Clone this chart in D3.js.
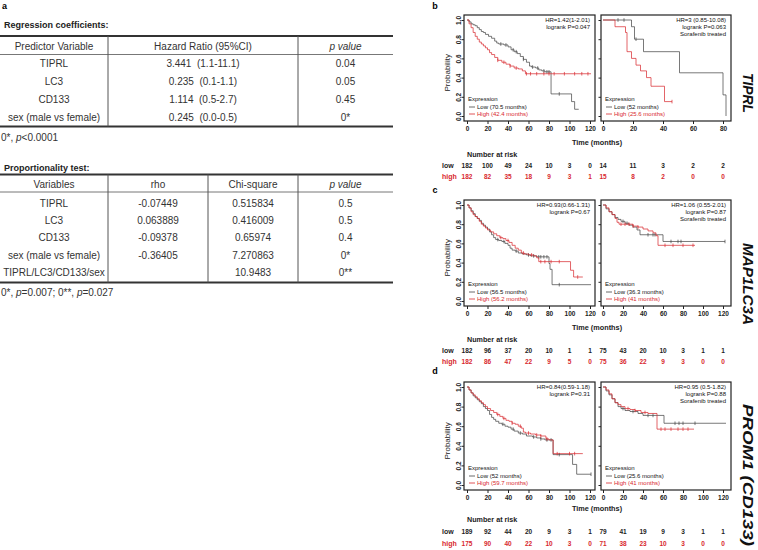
<!DOCTYPE html>
<html>
<head>
<meta charset="utf-8">
<script src="https://d3js.org/d3.v7.min.js"></script>
<style>
  body { margin: 0; background: #fff; }
  svg { display: block; font-family: Arial, "Liberation Sans", sans-serif; }
</style>
</head>
<body>
<svg id="fig" width="758" height="550"></svg>
<script>
/*************************************************************************/
// table data (panel a)

const regHeader = ['Predictor Variable', 'Hazard Ratio (95%CI)', 'p value'];
const regVars   = ['TIPRL', 'LC3', 'CD133', 'sex (male vs female)'];
const regHR     = ['3.441  (1.1-11.1)', '0.235  (0.1-1.1)', '1.114  (0.5-2.7)', '0.245  (0.0-0.5)'];
const regP      = ['0.04', '0.05', '0.45', '0*'];

const propHeader = ['Variables', 'rho', 'Chi-square', 'p value'];
const propVars   = ['TIPRL', 'LC3', 'CD133', 'sex (male vs female)', 'TIPRL/LC3/CD133/sex'];
const propRho    = ['-0.07449', '0.063889', '-0.09378', '-0.36405', ''];
const propChi    = ['0.515834', '0.416009', '0.65974', '7.270863', '10.9483'];
const propP      = ['0.5', '0.5', '0.4', '0*', '0**'];

/*************************************************************************/
// survival curves [months, probability]

const tiprlLowAll = [[0,1],[2,0.98],[4,0.96],[6,0.95],[8,0.94],[10,0.92],[12,0.9],[14,0.88],[16,0.87],[18,0.85],[21,0.83],[24,0.81],[27,0.78],[29,0.76],[31,0.75],[36,0.74],[40,0.72],[43,0.69],[46,0.67],[49,0.65],[52,0.62],[55,0.59],[58,0.56],[61,0.52],[63,0.51],[67,0.5],[70,0.48],[73,0.47],[76,0.46],[82,0.23],[102,0.15],[105,0.07],[109,0.07]];
const tiprlHighAll = [[0,1],[2,0.96],[4,0.92],[6,0.87],[8,0.83],[10,0.8],[12,0.77],[14,0.75],[16,0.73],[18,0.71],[20,0.69],[22,0.66],[24,0.64],[27,0.61],[30,0.58],[34,0.56],[38,0.54],[42,0.52],[46,0.5],[50,0.49],[54,0.47],[57,0.44],[121,0.44]];
const tiprlLowSor  = [[0,1],[19,0.93],[21,0.8],[27,0.67],[51,0.45],[80,0.22],[82,0]];
const tiprlHighSor = [[0,1],[8,0.93],[15,0.87],[16,0.67],[19,0.6],[22,0.53],[25,0.47],[29,0.4],[32,0.31],[41,0.15],[46,0.15]];

const lc3LowAll  = [[0,1],[2,0.97],[4,0.94],[6,0.91],[8,0.88],[10,0.86],[12,0.84],[14,0.81],[16,0.79],[18,0.77],[20,0.75],[22,0.72],[24,0.69],[26,0.66],[28,0.64],[31,0.63],[34,0.62],[37,0.6],[40,0.58],[42,0.55],[44,0.53],[47,0.52],[50,0.5],[54,0.49],[58,0.48],[62,0.47],[68,0.46],[80,0.39],[81,0.33],[83,0.17],[121,0.17]];
const lc3HighAll = [[0,1],[2,0.97],[4,0.93],[6,0.9],[8,0.88],[10,0.86],[12,0.83],[14,0.8],[16,0.78],[18,0.76],[20,0.74],[23,0.72],[26,0.7],[29,0.68],[32,0.66],[35,0.65],[38,0.63],[41,0.61],[44,0.58],[47,0.55],[50,0.53],[53,0.5],[56,0.49],[60,0.48],[65,0.47],[68,0.45],[70,0.41],[101,0.32],[104,0.25],[113,0.25]];
const lc3LowSor  = [[0,1],[3,0.96],[6,0.93],[9,0.9],[12,0.87],[15,0.85],[18,0.83],[22,0.81],[26,0.79],[30,0.77],[34,0.74],[37,0.69],[60,0.62],[122,0.62]];
const lc3HighSor = [[0,1],[3,0.97],[6,0.93],[9,0.9],[12,0.86],[14,0.82],[16,0.8],[25,0.8],[30,0.78],[35,0.77],[40,0.75],[45,0.73],[50,0.71],[53,0.68],[55,0.58],[92,0.58]];

const promLowAll  = [[0,1],[2,0.97],[4,0.94],[6,0.91],[8,0.89],[10,0.87],[12,0.85],[14,0.83],[16,0.8],[18,0.78],[20,0.76],[22,0.72],[24,0.69],[26,0.67],[28,0.65],[31,0.63],[34,0.62],[37,0.6],[40,0.59],[43,0.57],[46,0.55],[50,0.53],[54,0.52],[58,0.5],[64,0.49],[68,0.48],[72,0.47],[76,0.46],[84,0.31],[103,0.21],[107,0.11],[121,0.11]];
const promHighAll = [[0,1],[2,0.97],[4,0.94],[6,0.92],[8,0.9],[10,0.88],[12,0.86],[14,0.84],[16,0.82],[18,0.8],[20,0.78],[23,0.76],[26,0.74],[29,0.72],[32,0.7],[35,0.68],[38,0.66],[41,0.65],[44,0.63],[47,0.62],[50,0.6],[53,0.58],[55,0.54],[57,0.53],[62,0.52],[67,0.51],[72,0.5],[77,0.47],[80,0.46],[84,0.32],[113,0.32]];
const promLowSor  = [[0,1],[3,0.96],[6,0.92],[9,0.88],[12,0.84],[15,0.8],[18,0.78],[22,0.76],[27,0.75],[35,0.73],[40,0.71],[61,0.63],[123,0.63]];
const promHighSor = [[0,1],[3,0.97],[6,0.93],[9,0.88],[12,0.84],[15,0.82],[18,0.8],[22,0.78],[27,0.77],[32,0.76],[38,0.74],[45,0.73],[53,0.73],[54,0.57],[91,0.57]];

// censoring marks (months)
const tiprlLowAllCens  = [33, 38, 45, 48, 55, 64, 69, 75, 78, 80, 90];
const tiprlHighAllCens = [30, 36, 42, 48, 58, 62, 68, 75, 80, 85, 95, 105, 112, 118];
const tiprlLowSorCens  = [10, 14, 22];
const tiprlHighSorCens = [46];
const lc3LowAllCens    = [30, 36, 48, 60, 65, 70, 72, 75, 78, 90];
const lc3HighAllCens   = [33, 40, 55, 63, 72, 76, 82, 90, 108];
const lc3LowSorCens    = [20, 24, 45, 50, 52, 68, 75, 78, 122];
const lc3HighSorCens   = [18, 22, 26, 30, 35, 62, 70, 80, 90];
const promLowAllCens   = [35, 45, 52, 65, 72, 78, 82, 90, 121];
const promHighAllCens  = [30, 36, 44, 52, 60, 68, 72, 78, 88, 100, 105];
const promLowSorCens   = [20, 30, 45, 50, 72, 76, 80, 92];
const promHighSorCens  = [25, 32, 42, 58, 62, 68, 75, 80, 85];

// numbers at risk
const tiprlRiskLowAll  = [182, 100, 49, 24, 10, 3, 0];
const tiprlRiskHighAll = [182, 82, 35, 18, 9, 3, 1];
const tiprlRiskLowSor  = [14, 11, 3, 2, 2];
const tiprlRiskHighSor = [15, 8, 2, 0, 0];
const lc3RiskLowAll    = [182, 96, 37, 20, 10, 1, 1];
const lc3RiskHighAll   = [182, 86, 47, 22, 9, 5, 0];
const lc3RiskLowSor    = [75, 43, 20, 10, 3, 1, 1];
const lc3RiskHighSor   = [75, 36, 22, 9, 3, 0, 0];
const promRiskLowAll   = [189, 92, 44, 20, 9, 3, 1];
const promRiskHighAll  = [175, 90, 40, 22, 10, 3, 0];
const promRiskLowSor   = [79, 41, 19, 9, 3, 1, 1];
const promRiskHighSor  = [71, 38, 23, 10, 3, 0, 0];

const ticks120 = [0, 20, 40, 60, 80, 100, 120];
const ticks80  = [0, 20, 40, 60, 80];
const probTicks = [0, 0.2, 0.4, 0.6, 0.8, 1.0];

const hrAll = [['HR=1.42(1-2.01)', 'logrank P=0.047'], ['HR=0.93(0.66-1.31)', 'logrank P=0.67'], ['HR=0.84(0.59-1.18)', 'logrank P=0.31']];
const hrSor = [['HR=3 (0.85-10.08)', 'logrank P=0.063', 'Sorafenib treated'], ['HR=1.06 (0.55-2.01)', 'logrank P=0.87', 'Sorafenib treated'], ['HR=0.95 (0.5-1.82)', 'logrank P=0.88', 'Sorafenib treated']];
const legAll = [['Low (70.5 months)', 'High (42.4 months)'], ['Low (56.5 months)', 'High (56.2 months)'], ['Low (52 months)', 'High (59.7 months)']];
const legSor = [['Low (52 months)', 'High (25.6 months)'], ['Low (36.3 months)', 'High (41 months)'], ['Low (25.6 months)', 'High (41 months)']];
const genes = ['TIPRL', 'MAP1LC3A', 'PROM1 (CD133)'];
const letters = ['b', 'c', 'd'];

/*************************************************************************/
// small helpers, like d3-selection-multi

d3.selection.prototype.attrs = function(o){
    for (const k in o) this.attr(k, o[k]);
    return this;
};
d3.selection.prototype.styles = function(o){
    for (const k in o) this.style(k, o[k]);
    return this;
};

const RED = '#d8282e';
const svg = d3.select('#fig');

/*************************************************************************/
// panel a: tables

svg.append('text').attrs({x: 2, y: 9, 'font-size': 9, 'font-weight': 'bold'}).text('a');
svg.append('text').attrs({x: 4, y: 28, 'font-size': 9, 'font-weight': 'bold', fill: '#222'}).text('Regression coefficients:');
svg.append('text').attrs({x: 4, y: 170.5, 'font-size': 9, 'font-weight': 'bold', fill: '#222'}).text('Proportionality test:');

function drawTable(t){
    const g = svg.append('g');
    const y = d3.scaleLinear().domain([0, 1]).range([t.row0, t.row0 + t.step]);
    const mids = d3.pairs(t.edges).map(p => (p[0] + p[1]) / 2);
    const xa = t.edges[0], xb = t.edges[t.edges.length - 1];

    g.append('line').attrs({x1: xa, x2: xb, y1: t.top, y2: t.top}).styles({stroke: '#333', 'stroke-width': 2});
    g.append('line').attrs({x1: xa, x2: xb, y1: t.headLine, y2: t.headLine}).styles({stroke: '#777', 'stroke-width': 1});
    g.append('line').attrs({x1: xa, x2: xb, y1: t.bottom, y2: t.bottom}).styles({stroke: '#333', 'stroke-width': 2});
    g.selectAll('.vline').data(t.edges.slice(1, -1)).enter().append('line')
        .attrs({x1: d => d, x2: d => d, y1: t.top, y2: t.bottom})
        .styles({stroke: '#555', 'stroke-width': 1});

    g.selectAll('.head').data(t.header).enter().append('text')
        .attrs({x: (d, i) => mids[i], y: t.headY, 'text-anchor': 'middle', dy: '0.35em', 'font-size': 10, fill: '#333'})
        .style('font-style', (d, i) => i == t.header.length - 1 ? 'italic' : 'normal')
        .text(d => d);

    t.columns.forEach((col, ci) => {
        g.selectAll('.c' + ci).data(col).enter().append('text')
            .attrs({x: mids[ci], y: (d, i) => y(i), 'text-anchor': 'middle', dy: '0.35em', 'font-size': 10, fill: '#333'})
            .style('white-space', 'pre')
            .text(d => d);
    });
}

drawTable({ edges: [0, 108, 298, 393], top: 36, headLine: 54.5, bottom: 126.5, headY: 46, row0: 63.3, step: 18,
    header: regHeader, columns: [regVars, regHR, regP] });
drawTable({ edges: [0, 108, 208, 298, 393], top: 174.5, headLine: 192, bottom: 282.5, headY: 184.3, row0: 203.3, step: 17.25,
    header: propHeader, columns: [propVars, propRho, propChi, propP] });

function footnote(y, parts){
    const t = svg.append('text').attrs({x: 1, y: y, dy: '0.35em', 'font-size': 10, fill: '#333'});
    parts.forEach(p => t.append('tspan').style('font-style', p[1] ? 'italic' : 'normal').text(p[0]));
}
footnote(137.3, [['0*, ', 0], ['p', 1], ['<0.0001', 0]]);
footnote(292.7, [['0*, ', 0], ['p', 1], ['=0.007; 0**, ', 0], ['p', 1], ['=0.027', 0]]);

/*************************************************************************/
// panels b-d: survival curves

const rowsLayout = [
    { y1: 20,  y0: 116, letterY: 9,   geneY: 93,  geneLen: 40,  timeY: 142, narY: 154, lowY: 166, highY: 177 },
    { y1: 205, y0: 301, letterY: 193, geneY: 284, geneLen: 82,  timeY: 327, narY: 339, lowY: 351, highY: 362 },
    { y1: 387, y0: 485, letterY: 374, geneY: 475, geneLen: 142, timeY: 508, narY: 519, lowY: 532, highY: 544 }
];

const curvesAll = [[tiprlLowAll, tiprlHighAll], [lc3LowAll, lc3HighAll], [promLowAll, promHighAll]];
const curvesSor = [[tiprlLowSor, tiprlHighSor], [lc3LowSor, lc3HighSor], [promLowSor, promHighSor]];
const censAll = [[tiprlLowAllCens, tiprlHighAllCens], [lc3LowAllCens, lc3HighAllCens], [promLowAllCens, promHighAllCens]];
const censSor = [[tiprlLowSorCens, tiprlHighSorCens], [lc3LowSorCens, lc3HighSorCens], [promLowSorCens, promHighSorCens]];
const riskAll = [[tiprlRiskLowAll, tiprlRiskHighAll], [lc3RiskLowAll, lc3RiskHighAll], [promRiskLowAll, promRiskHighAll]];
const riskSor = [[tiprlRiskLowSor, tiprlRiskHighSor], [lc3RiskLowSor, lc3RiskHighSor], [promRiskLowSor, promRiskHighSor]];

function survAt(curve, t){
    const i = d3.bisector(d => d[0]).right(curve, t) - 1;
    return curve[Math.max(i, 0)][1];
}

function drawKM(p){
    const g = svg.append('g');
    const x = p.x, y = p.y;
    const bx0 = p.box[0], bx1 = p.box[1];
    const by0 = y(1) - 5, by1 = y(0) + 5;

    g.append('rect').attrs({x: bx0, y: by0, width: bx1 - bx0, height: by1 - by0})
        .styles({fill: 'none', stroke: '#222', 'stroke-width': 1.2});

    const yAxis = g.append('g').attr('transform', `translate(${bx0},0)`)
        .call(d3.axisLeft(y).tickValues(probTicks).tickSize(2.5).tickFormat(p.yLabels ? d3.format('.1f') : ''));
    yAxis.select('.domain').remove();
    yAxis.selectAll('line').attr('stroke', '#222');
    yAxis.selectAll('text').attrs({transform: 'rotate(-90)', x: 0, y: -3.5, dy: 0, 'text-anchor': 'middle', 'font-size': 6.5, 'font-weight': 'bold', fill: '#222'});

    const xAxis = g.append('g').attr('transform', `translate(0,${by1})`)
        .call(d3.axisBottom(x).tickValues(p.ticks).tickSize(3).tickPadding(2.5));
    xAxis.select('.domain').remove();
    xAxis.selectAll('line').attr('stroke', '#222');
    xAxis.selectAll('text').attrs({'font-size': 6.5, 'font-weight': 'bold', fill: '#222'});

    const line = d3.line().curve(d3.curveStepAfter).x(d => x(d[0])).y(d => y(d[1]));
    const cols = ['#444', RED];
    p.curves.forEach((c, i) => {
        g.append('path').attr('d', line(c))
            .styles({fill: 'none', stroke: cols[i], 'stroke-width': 0.8, 'stroke-opacity': 0.9});
        g.selectAll('.cens' + i).data(p.cens[i]).enter().append('line')
            .attrs({x1: d => x(d), x2: d => x(d), y1: d => y(survAt(c, d)) - 1.8, y2: d => y(survAt(c, d)) + 1.8})
            .styles({stroke: cols[i], 'stroke-width': 0.7});
    });

    // HR text
    g.selectAll('.hr').data(p.hr).enter().append('text')
        .attrs({x: bx1 - 5, y: (d, i) => y(1) + 2 + i * 7, 'text-anchor': 'end', 'font-size': 6, fill: '#111'})
        .text(d => d);

    // legend
    const lx = bx0 + 4;
    g.append('text').attrs({x: lx, y: y(0) - 15, 'font-size': 6, fill: '#111'}).text('Expression');
    p.legend.forEach((d, i) => {
        const ly = y(0) - 7 + i * 7;
        g.append('line').attrs({x1: lx + 1, x2: lx + 7, y1: ly - 2, y2: ly - 2}).styles({stroke: cols[i], 'stroke-width': 0.8});
        g.append('text').attrs({x: lx + 9, y: ly, 'font-size': 6, fill: i ? RED : '#111'}).text(d);
    });

    // numbers at risk
    p.risk.forEach((arr, i) => {
        g.selectAll('.risk' + i).data(arr).enter().append('text')
            .attrs({x: (d, j) => x(p.ticks[j]), y: i ? p.highY : p.lowY, dy: '0.35em', 'text-anchor': 'middle',
                    'font-size': 6.5, 'font-weight': 'bold', fill: i ? RED : '#222'})
            .text(d => d);
    });
}

rowsLayout.forEach((r, k) => {
    const y = d3.scaleLinear().domain([0, 1]).range([r.y0, r.y1]);
    const xL = d3.scaleLinear().domain([0, 120]).range([467, 590]);
    const xR = k == 0 ? d3.scaleLinear().domain([0, 80]).range([603, 723])
                      : d3.scaleLinear().domain([0, 120]).range([603, 723]);

    drawKM({ x: xL, y: y, box: [464, 595], ticks: ticks120, yLabels: true, curves: curvesAll[k], cens: censAll[k],
             hr: hrAll[k], legend: legAll[k], risk: riskAll[k], lowY: r.lowY, highY: r.highY });
    drawKM({ x: xR, y: y, box: [601, 731], ticks: k == 0 ? ticks80 : ticks120, yLabels: false, curves: curvesSor[k], cens: censSor[k],
             hr: hrSor[k], legend: legSor[k], risk: riskSor[k], lowY: r.lowY, highY: r.highY });

    svg.append('text').attrs({x: 435, y: r.letterY, 'font-size': 9, 'font-weight': 'bold', 'text-anchor': 'middle'}).text(letters[k]);
    svg.append('text').attrs({transform: `translate(447,${y(0.45)}) rotate(-90)`, 'text-anchor': 'middle', dy: '0.35em', 'font-size': 8, fill: '#222'})
        .text('Probability');
    svg.append('text').attrs({x: 597, y: r.timeY, dy: '0.35em', 'text-anchor': 'middle', 'font-size': 7.3, 'font-weight': 'bold', fill: '#222'})
        .text('Time (months)');
    svg.append('text').attrs({x: 467, y: r.narY, dy: '0.35em', 'font-size': 7.2, 'font-weight': 'bold', fill: '#222'})
        .text('Number at risk');
    svg.append('text').attrs({x: 442, y: r.lowY, dy: '0.35em', 'font-size': 7, 'font-weight': 'bold', fill: '#222'}).text('low');
    svg.append('text').attrs({x: 442, y: r.highY, dy: '0.35em', 'font-size': 7, 'font-weight': 'bold', fill: RED}).text('high');
    svg.append('text').attrs({transform: `translate(748,${r.geneY}) rotate(90)`, 'text-anchor': 'middle', dy: '0.35em',
                              'font-size': 15, 'font-weight': 'bold', 'font-style': 'italic', fill: '#111',
                              textLength: r.geneLen, lengthAdjust: 'spacingAndGlyphs'})
        .text(genes[k]);
});
</script>
</body>
</html>
